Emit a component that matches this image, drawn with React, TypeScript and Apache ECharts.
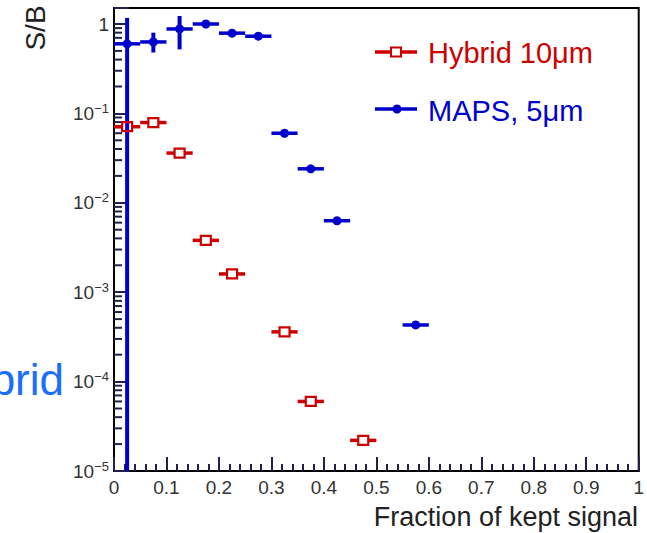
import React, { useEffect, useRef } from "react";
import * as echarts from "echarts";

// ---- Data ----
const binHalfWidth = 0.025;

const hybridX = [0.025, 0.075, 0.125, 0.175, 0.225, 0.325, 0.375, 0.475];
const hybridY = [0.071, 0.079, 0.036, 0.0038, 0.0016, 0.00036, 0.00006, 0.000022];
const hybridYLow = [0.069, 0.077, 0.035, 0.0037, 0.00155, 0.00035, 0.000058, 0.0000213];
const hybridYHigh = [0.073, 0.081, 0.037, 0.0039, 0.00165, 0.00037, 0.000062, 0.0000227];

const mapsX = [0.025, 0.075, 0.125, 0.175, 0.225, 0.275, 0.325, 0.375, 0.425, 0.575];
const mapsY = [0.6, 0.63, 0.88, 1.0, 0.79, 0.73, 0.06, 0.024, 0.0063, 0.00043];
const mapsYLow = [0, 0.48, 0.52, 0.96, 0.77, 0.71, 0.058, 0.0233, 0.0061, 0.00042];
const mapsYHigh = [1.17, 0.8, 1.23, 1.04, 0.81, 0.75, 0.062, 0.0247, 0.0065, 0.00044];

const xTickLabels = ["0", "0.1", "0.2", "0.3", "0.4", "0.5", "0.6", "0.7", "0.8", "0.9", "1"];
const yDecades = [-5, -4, -3, -2, -1, 0];

const legendNames = ["Hybrid 10\u03bcm", "MAPS, 5\u03bcm"];
const xTitle = "Fraction of kept signal";
const yTitle = "S/B";
const overlayText = "brid";

const X_MIN = 0;
const X_MAX = 1;
const Y_MIN = 1e-5;
const Y_MAX = 1.51;

const RED = "#cc0000";
const BLUE = "#0000cc";
const TICK = "#24204a";
const FONT = '"Liberation Sans", Arial, Helvetica, sans-serif';

function buildRows(xs: number[], ys: number[], lo: number[], hi: number[]) {
  return xs.map((x, i) => [x, ys[i], x - binHalfWidth, x + binHalfWidth, lo[i], hi[i]]);
}

function errSeries(name: string, color: string, marker: "circle" | "square", data: number[][]) {
  return {
    type: "custom",
    name,
    data,
    encode: { x: 0, y: 1 },
    clip: true,
    z: marker === "square" ? 5 : 4,
    renderItem: (_params: any, api: any) => {
      const x = api.value(0);
      const y = api.value(1);
      const xl = Math.max(api.value(2), X_MIN);
      const xh = Math.min(api.value(3), X_MAX);
      const yl = Math.max(api.value(4), Y_MIN);
      const yh = Math.min(api.value(5), Y_MAX);
      const c = api.coord([x, y]);
      const pl = api.coord([xl, y]);
      const ph = api.coord([xh, y]);
      const pyl = api.coord([x, yl]);
      const pyh = api.coord([x, yh]);
      const gap = marker === "square" ? 5 : 0;
      const lw = 3.5;
      const children: any[] = [];
      const ls = { stroke: color, lineWidth: lw };
      children.push({ type: "line", shape: { x1: pl[0], y1: c[1], x2: c[0] - gap, y2: c[1] }, style: ls });
      children.push({ type: "line", shape: { x1: c[0] + gap, y1: c[1], x2: ph[0], y2: c[1] }, style: ls });
      const vw = marker === "circle" ? 4 : 2;
      if (pyl[1] > c[1] + gap) {
        children.push({ type: "line", shape: { x1: c[0], y1: c[1] + gap, x2: c[0], y2: pyl[1] }, style: { stroke: color, lineWidth: vw } });
      }
      if (pyh[1] < c[1] - gap) {
        children.push({ type: "line", shape: { x1: c[0], y1: c[1] - gap, x2: c[0], y2: pyh[1] }, style: { stroke: color, lineWidth: vw } });
      }
      if (marker === "circle") {
        children.push({ type: "circle", shape: { cx: c[0], cy: c[1], r: 4.5 }, style: { fill: color } });
      } else {
        children.push({ type: "rect", shape: { x: c[0] - 5, y: c[1] - 4.5, width: 10, height: 9 }, style: { fill: "none", stroke: color, lineWidth: 2.2 } });
      }
      return { type: "group", children };
    },
  };
}

export default function App() {
  const ref = useRef<HTMLDivElement>(null);

  useEffect(() => {
    if (!ref.current) return;
    const chart = echarts.init(ref.current, null, { renderer: "svg" });

    // minor ticks of the log axis (2..9 per decade)
    const yMinorTicks: number[][] = [];
    yDecades.forEach((e) => {
      for (let m = 2; m <= 9; m++) {
        const v = m * Math.pow(10, e);
        if (v < Y_MAX) yMinorTicks.push([0.5, v]);
      }
    });

    const yMinorSeries = {
      type: "custom",
      name: "yMinorTicks",
      data: yMinorTicks,
      encode: { x: 0, y: 1 },
      clip: false,
      z: 3,
      renderItem: (_p: any, api: any) => {
        const p = api.coord([X_MIN, api.value(1)]);
        return {
          type: "group",
          children: [
            {
              type: "line",
              shape: { x1: p[0], y1: p[1], x2: p[0] + 8, y2: p[1] },
              style: { stroke: TICK, lineWidth: 2 },
            },
          ],
        };
      },
    };

    const tickStyle = { color: TICK, width: 2 };

    const option: any = {
      animation: false,
      backgroundColor: "#ffffff",
      grid: {
        left: 114,
        right: 3,
        top: 8,
        bottom: 62,
        show: true,
        borderColor: "#000",
        borderWidth: 2,
      },
      xAxis: {
        type: "value",
        min: X_MIN,
        max: X_MAX,
        interval: 0.1,
        axisLine: { show: true, lineStyle: { color: "#000", width: 2 } },
        axisTick: { show: true, inside: true, length: 14, lineStyle: tickStyle },
        minorTick: { show: true, splitNumber: 5, length: 7, lineStyle: tickStyle },
        splitLine: { show: false },
        axisLabel: {
          fontSize: 19,
          fontFamily: FONT,
          color: "#333",
          margin: 7,
          formatter: (v: number) => {
            const idx = Math.round(v * 10);
            return xTickLabels[idx] ?? "";
          },
        },
      },
      yAxis: {
        type: "log",
        logBase: 10,
        min: Y_MIN,
        max: Y_MAX,
        axisLine: { show: true, lineStyle: { color: "#000", width: 2 } },
        axisTick: { show: true, inside: true, length: 15, lineStyle: tickStyle },
        splitLine: { show: false },
        axisLabel: {
          margin: 5,
          fontFamily: FONT,
          color: "#333",
          formatter: (v: number) => {
            const l = Math.log10(v);
            const e = Math.round(l);
            if (Math.abs(l - e) > 1e-6) return "";
            if (e === 0) return "{a|1}";
            return `{a|10}{b|${e < 0 ? "\u2212" : ""}${Math.abs(e)}}`;
          },
          rich: {
            a: { fontSize: 19, fontFamily: FONT, color: "#333" },
            b: { fontSize: 13, fontFamily: FONT, color: "#333", padding: [0, 0, 10, 0] },
          },
        },
      },
      series: [
        yMinorSeries,
        errSeries(legendNames[1], BLUE, "circle", buildRows(mapsX, mapsY, mapsYLow, mapsYHigh)),
        errSeries(legendNames[0], RED, "square", buildRows(hybridX, hybridY, hybridYLow, hybridYHigh)),
      ],
      graphic: [
        // legend
        { type: "line", shape: { x1: 375, y1: 52, x2: 417, y2: 52 }, style: { stroke: RED, lineWidth: 3.5 } },
        { type: "rect", shape: { x: 391, y: 47.5, width: 10, height: 9 }, style: { fill: "#fff", stroke: RED, lineWidth: 2 } },
        { type: "text", x: 428, y: 53, style: { text: legendNames[0], fontSize: 29, fontFamily: FONT, fill: RED, align: "left", verticalAlign: "middle" } },
        { type: "line", shape: { x1: 375, y1: 109, x2: 417, y2: 109 }, style: { stroke: BLUE, lineWidth: 3.5 } },
        { type: "circle", shape: { cx: 397, cy: 109, r: 4.5 }, style: { fill: BLUE } },
        { type: "text", x: 428, y: 111, style: { text: legendNames[1], fontSize: 29, fontFamily: FONT, fill: BLUE, align: "left", verticalAlign: "middle" } },
        // axis titles
        { type: "text", x: 35, y: 28, rotation: Math.PI / 2, style: { text: yTitle, fontSize: 28, fontFamily: FONT, fill: "#222", align: "center", verticalAlign: "middle" } },
        { type: "text", x: 638, y: 517, style: { text: xTitle, fontSize: 27, fontFamily: FONT, fill: "#222", align: "right", verticalAlign: "middle" } },
        // overlay slide text (cut at the left edge, as in the reference)
        { type: "text", x: 64, y: 379, style: { text: overlayText, fontSize: 44, fontFamily: FONT, fill: "#1a6eff", align: "right", verticalAlign: "middle" } },
      ],
    };

    chart.setOption(option);
    return () => chart.dispose();
  }, []);

  return <div ref={ref} style={{ position: "fixed", left: 0, top: 0, width: 647, height: 533 }} />;
}
